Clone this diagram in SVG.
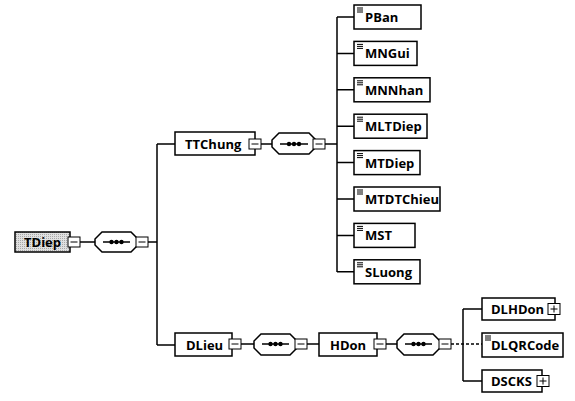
<svg xmlns="http://www.w3.org/2000/svg" width="575" height="401" viewBox="0 0 575 401">
<defs>
<pattern id="dots" width="2" height="2" patternUnits="userSpaceOnUse"><rect width="2" height="2" fill="#e0e0e0"/><rect width="1" height="1" fill="#a8a8a8"/></pattern>
<g id="leaf"><path d="M0,0.5H6M0,2.5H6M0,4.5H6" stroke="#000" stroke-width="1" fill="none"/></g>
<g id="minus"><rect x="0" y="0" width="12" height="10" fill="#fff" stroke="#000" stroke-width="1"/><path d="M2.5,5H9.5" stroke="#000" stroke-width="1"/></g>
<g id="plus"><rect x="0" y="0" width="12" height="11" fill="#fff" stroke="#000" stroke-width="1"/><path d="M2.5,5.5H9.5M6,2V9" stroke="#000" stroke-width="1"/></g>
</defs>
<style>
.box{fill:#fff;stroke:#000;stroke-width:1.5}
.seq{fill:#fff;stroke:#000;stroke-width:1.5}
.ln{stroke:#000;stroke-width:1.5;fill:none}
.dash{stroke:#000;stroke-width:1.5;fill:none;stroke-dasharray:3 2}
text{font-family:"Open Sans","DejaVu Sans","Liberation Sans",sans-serif;font-weight:bold;font-size:13px;fill:#000}
</style>
<g id="connectors">
<path class="ln" d="M80,242H95M147,242H157M157,144V345M157,144H175M157,345H175"/>
<path class="ln" d="M261,144H272M325,144H337M337,17V272"/>
<path class="ln" d="M337,17H354M337,53.4H354M337,89.8H354M337,126.2H354M337,162.6H354M337,199H354M337,235.4H354M337,271.8H354"/>
<path class="ln" d="M241,344H254M307,344H319M386,344H397"/>
<path class="ln" d="M463,309V381M463,309H482M463,381H482"/>
<path class="dash" d="M451,344H482"/>
</g>
<g id="TDiep">
<rect x="15" y="232" width="55" height="20" fill="url(#dots)" stroke="#000" stroke-width="1.5"/>
<text x="24" y="247">TDiep</text>
<use href="#minus" x="68" y="237"/>
</g>
<g id="seq1">
<path class="seq" d="M102,232H131L138,239V245L131,252H102L95,245V239Z"/>
<path class="ln" d="M103,242H130"/><circle cx="111.5" cy="242" r="2.2"/><circle cx="116.5" cy="242" r="2.2"/><circle cx="121.5" cy="242" r="2.2"/>
<use href="#minus" x="136" y="237"/>
</g>
<g id="TTChung">
<rect class="box" x="175" y="132" width="80" height="23"/>
<text x="185" y="149">TTChung</text>
<use href="#minus" x="249" y="139"/>
</g>
<g id="seq2">
<path class="seq" d="M279,133H309L316,140V147L309,154H279L272,147V140Z"/>
<path class="ln" d="M280,144H308"/><circle cx="289" cy="144" r="2.2"/><circle cx="294" cy="144" r="2.2"/><circle cx="299" cy="144" r="2.2"/>
<use href="#minus" x="313" y="139"/>
</g>
<g id="PBan"><rect class="box" x="354" y="5" width="67" height="24"/><use href="#leaf" x="357" y="7.5"/><text x="365" y="22">PBan</text></g>
<g id="MNGui"><rect class="box" x="354" y="41.4" width="63" height="24"/><use href="#leaf" x="357" y="43.9"/><text x="365" y="58.4">MNGui</text></g>
<g id="MNNhan"><rect class="box" x="354" y="77.8" width="76" height="24"/><use href="#leaf" x="357" y="80.3"/><text x="365" y="94.8">MNNhan</text></g>
<g id="MLTDiep"><rect class="box" x="354" y="114.2" width="73" height="24" stroke-width="2"/><use href="#leaf" x="357" y="116.7"/><text x="365" y="131.2">MLTDiep</text></g>
<g id="MTDiep"><rect class="box" x="354" y="150.6" width="66" height="24"/><use href="#leaf" x="357" y="153.1"/><text x="365" y="167.6">MTDiep</text></g>
<g id="MTDTChieu"><rect class="box" x="354" y="187" width="86" height="24"/><use href="#leaf" x="357" y="189.5"/><text x="365" y="204">MTDTChieu</text></g>
<g id="MST"><rect class="box" x="354" y="223.4" width="61" height="24"/><use href="#leaf" x="357" y="225.9"/><text x="365" y="240.4">MST</text></g>
<g id="SLuong"><rect class="box" x="354" y="259.8" width="66" height="24"/><use href="#leaf" x="357" y="262.3"/><text x="365" y="276.8">SLuong</text></g>
<g id="DLieu">
<rect class="box" x="175" y="333" width="57" height="23"/>
<text x="186" y="350">DLieu</text>
<use href="#minus" x="229" y="339"/>
</g>
<g id="seq3">
<path class="seq" d="M261,334H290L297,341V348L290,355H261L254,348V341Z"/>
<path class="ln" d="M262,344H289"/><circle cx="270.5" cy="344" r="2.2"/><circle cx="275.5" cy="344" r="2.2"/><circle cx="280.5" cy="344" r="2.2"/>
<use href="#minus" x="295" y="339"/>
</g>
<g id="HDon">
<rect class="box" x="319" y="333" width="58" height="23"/>
<text x="330" y="350">HDon</text>
<use href="#minus" x="374" y="339"/>
</g>
<g id="seq4">
<path class="seq" d="M404,334H433L440,341V348L433,355H404L397,348V341Z"/>
<path class="ln" d="M405,344H432"/><circle cx="413.5" cy="344" r="2.2"/><circle cx="418.5" cy="344" r="2.2"/><circle cx="423.5" cy="344" r="2.2"/>
<use href="#minus" x="439" y="339"/>
</g>
<g id="DLHDon"><rect class="box" x="482" y="298" width="73" height="22"/><text x="491" y="314">DLHDon</text><use href="#plus" x="548" y="303.5"/></g>
<g id="DLQRCode"><rect class="box" x="482" y="333" width="81" height="24"/><use href="#leaf" x="485" y="335.5"/><text x="491" y="350">DLQRCode</text></g>
<g id="DSCKS"><rect class="box" x="482" y="370" width="60" height="22"/><text x="491" y="386">DSCKS</text><use href="#plus" x="537" y="375.5"/></g>
</svg>
